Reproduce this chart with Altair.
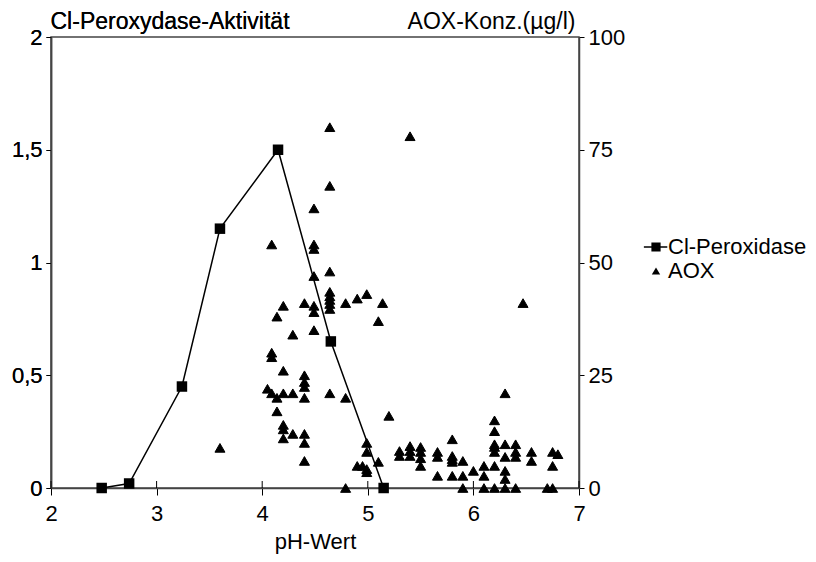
import altair as alt
import pandas as pd

# Cl-Peroxidase activity (left axis)
cl_ph = [2.48, 2.74, 3.24, 3.60, 4.15, 4.65, 5.15]
cl_act = [0.0, 0.02, 0.45, 1.15, 1.5, 0.65, 0.0]

# AOX concentration (right axis, µg/l)
aox_ph = [
    3.60, 4.64, 5.40, 4.64, 4.49, 4.09, 4.49, 4.49, 4.49, 4.64,
    4.64, 4.64, 4.64, 4.64, 4.64, 4.20, 4.40, 4.49, 4.79, 4.90,
    4.99, 5.14, 4.14, 4.49, 5.10, 4.29, 4.49, 4.09, 4.09, 4.20,
    4.40, 4.40, 4.40, 4.40, 4.05, 4.09, 4.14, 4.20, 4.29, 4.64,
    4.79, 4.14, 5.20, 4.20, 4.20, 4.20, 4.29, 4.40, 4.40, 4.40,
    4.79, 4.99, 4.99, 4.99, 4.90, 4.95, 4.99, 5.10, 6.47, 5.30,
    5.30, 5.40, 5.40, 5.40, 5.50, 5.50, 5.50, 5.50, 5.66, 5.66,
    5.66, 5.80, 5.80, 5.80, 5.80, 5.80, 5.90, 5.90, 5.90, 6.00,
    6.10, 6.10, 6.10, 6.20, 6.20, 6.20, 6.20, 6.20, 6.20, 6.20,
    6.30, 6.30, 6.30, 6.30, 6.30, 6.30, 6.40, 6.40, 6.40, 6.40,
    6.55, 6.55, 6.70, 6.75, 6.75, 6.75, 6.80,
]
aox_val = [
    8.9, 80, 78, 67, 62, 54, 54, 53, 47, 48,
    43.5, 42.5, 41.7, 40.8, 39.7, 40.4, 41, 40.4, 41, 42,
    43, 41, 38, 39, 37, 34, 35, 30, 29, 26,
    25, 23.5, 22.4, 20, 22, 21, 20, 21, 21, 21,
    20, 17, 16, 14, 13, 11, 12, 12, 10, 6,
    0, 10, 8, 4.2, 4.9, 4.9, 3.5, 5.8, 41, 8.2,
    7.1, 9.3, 8.2, 7.1, 9.1, 8, 6.6, 4.9, 8, 6.9,
    2.7, 10.8, 7.1, 6.4, 5.8, 2.7, 6, 2.7, 0, 3.8,
    4.9, 2.7, 0, 15, 12.6, 9.7, 9.1, 8, 4.9, 0,
    21, 9.7, 6.9, 3.8, 2, 0, 9.7, 8, 6.9, 0,
    8, 6, 0, 0, 8, 4.9, 7.5,
]

series_names = ["Cl-Peroxidase", "AOX"]
x_ticks = [2, 3, 4, 5, 6, 7]
left_ticks = [0, 0.5, 1, 1.5, 2]
right_ticks = [0, 25, 50, 75, 100]

cl_df = pd.DataFrame({"pH": cl_ph, "act": cl_act})
aox_df = pd.DataFrame({"pH": aox_ph, "aox": aox_val, "series": "AOX"})
tick_df = pd.DataFrame({"pH": x_ticks})

FONT = "Liberation Sans"
FS = 22
W, H = 528, 451
xscale = alt.Scale(domain=[2, 7], nice=False, zero=False)

comma = "replace(format(datum.value, '~g'), '.', ',')"

x_axis = alt.Axis(values=x_ticks, title="pH-Wert", tickSize=7, labelPadding=8,
                  labelFlush=False, titlePadding=7, labelFontSize=FS, titleFontSize=FS,
                  titleFontWeight="normal", grid=False)

left_axis = alt.Axis(orient="left", values=left_ticks, labelExpr=comma, tickSize=5,
                     labelPadding=4, labelFontSize=FS, grid=False,
                     title="Cl-Peroxydase-Aktivität", titleAngle=0, titleAlign="left",
                     titleBaseline="alphabetic", titleX=-1, titleY=-9,
                     titleFontSize=23, titleFontWeight="normal")

right_axis = alt.Axis(orient="right", values=right_ticks, tickSize=5,
                      labelPadding=4, labelFontSize=FS, grid=False,
                      title="AOX-Konz.(µg/l)", titleAngle=0, titleAlign="right",
                      titleBaseline="alphabetic", titleX=-4, titleY=-9,
                      titleFontSize=23, titleFontWeight="normal")

cl_base = alt.Chart(cl_df).encode(
    x=alt.X("pH:Q", scale=xscale, axis=x_axis),
    y=alt.Y("act:Q", scale=alt.Scale(domain=[0, 2], nice=False), axis=left_axis),
)
cl_line = cl_base.mark_line(color="black", strokeWidth=1.5)
cl_pts = cl_base.mark_square(color="black", size=110, opacity=1)

# legend glyph: a short line with a square on it (both as filled shapes)
legend_path = ("M-2.9,-0.18L2.7,-0.18L2.7,0.18L-2.9,0.18Z"
               "M-1.1,-1.1L1.1,-1.1L1.1,1.1L-1.1,1.1Z")

aox_pts = alt.Chart(aox_df).mark_point(
    filled=True, color="black", stroke="black", strokeWidth=1, size=100, opacity=1
).encode(
    x=alt.X("pH:Q", scale=xscale, axis=x_axis),
    y=alt.Y("aox:Q", scale=alt.Scale(domain=[0, 100], nice=False), axis=right_axis),
    shape=alt.Shape(
        "series:N",
        scale=alt.Scale(domain=series_names, range=[legend_path, "triangle-up"]),
        legend=alt.Legend(
            title=None, orient="none", legendX=594, legendY=199,
            labelFontSize=FS, labelFont=FONT, symbolSize=70,
            symbolFillColor="black", symbolStrokeColor="black",
            symbolStrokeWidth=1.5, symbolOpacity=1, labelOffset=1,
            rowPadding=2, padding=0,
        ),
    ),
)

inner_ticks = alt.Chart(tick_df).mark_rule(color="black", strokeWidth=1).encode(
    x=alt.X("pH:Q", scale=xscale, axis=x_axis),
    y=alt.value(H - 7),
    y2=alt.value(H),
)

chart = (
    alt.layer(cl_line, cl_pts, aox_pts, inner_ticks)
    .resolve_scale(y="independent", shape="independent")
    .properties(
        width=W, height=H,
        autosize=alt.AutoSizeParams(type="none"),
        padding={"left": 43, "top": 29, "right": 229, "bottom": 66},
    )
    .configure(font=FONT)
    .configure_view(stroke="#444", strokeWidth=1.5)
    .configure_axis(domainColor="#444", domainWidth=1.5, tickColor="black",
                    labelColor="black", titleColor="black", labelFont=FONT, titleFont=FONT)
)

chart.save("out.html", embed_options={"renderer": "svg", "actions": False})
